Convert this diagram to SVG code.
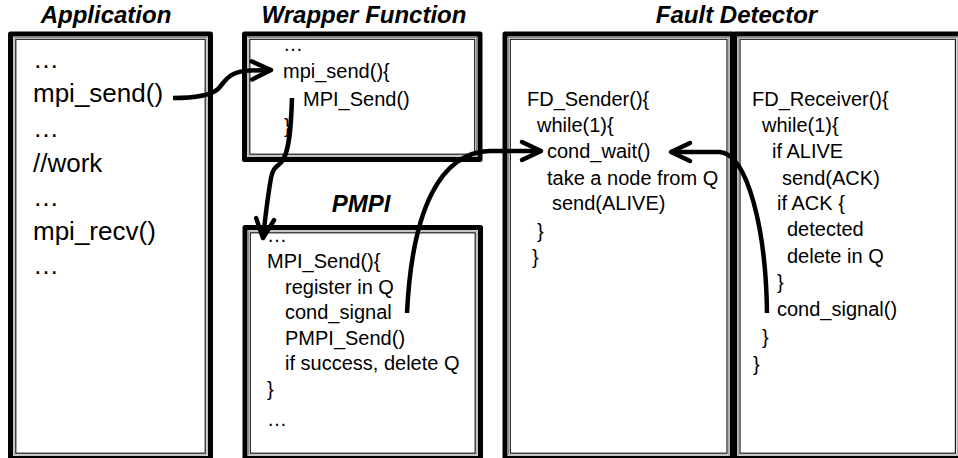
<svg xmlns="http://www.w3.org/2000/svg" width="958" height="458" viewBox="0 0 958 458">
<defs>
<style>
.outer{fill:#fff;stroke:#000;stroke-width:5;stroke-linejoin:round}
.mid{fill:none;stroke:#8c8c8c;stroke-width:1}
.inner{fill:none;stroke:#1a1a1a;stroke-width:1.2}
.title{font-family:"Liberation Sans",Arial,sans-serif;font-weight:bold;font-style:italic;font-size:24px;text-anchor:middle;fill:#000}
.big{font-family:"Liberation Sans",Arial,sans-serif;font-size:26px;fill:#000}
.code{font-family:"Liberation Sans",Arial,sans-serif;font-size:20px;fill:#000}
.conn{fill:none;stroke:#000;stroke-width:4.5;stroke-linecap:butt}
</style>
<marker id="chev" markerUnits="userSpaceOnUse" viewBox="-26 -14 30 28" refX="0" refY="0" markerWidth="30" markerHeight="28" orient="auto">
<path d="M-19,-9 L0,0 L-19,9" fill="none" stroke="#000" stroke-width="4.5" stroke-linejoin="round" stroke-linecap="round"/>
</marker>
</defs>
<rect width="958" height="458" fill="#fff"/>

<g id="application">
<text class="title" x="106" y="23">Application</text>
<rect class="outer" x="10.5" y="34" width="200" height="424.5"/>
<rect class="mid" x="14" y="37.5" width="193" height="417.5"/>
<rect class="inner" x="15.8" y="39.3" width="189.4" height="413.9"/>
<text class="big" x="33" y="68">…</text>
<text class="big" x="33" y="102">mpi_send()</text>
<text class="big" x="33" y="137">…</text>
<text class="big" x="33" y="172">//work</text>
<text class="big" x="33" y="206">…</text>
<text class="big" x="33" y="240">mpi_recv()</text>
<text class="big" x="33" y="274">…</text>
</g>

<g id="wrapper">
<text class="title" x="364" y="23">Wrapper Function</text>
<rect class="outer" x="244.5" y="34" width="235.5" height="125.5"/>
<rect class="mid" x="248" y="37.5" width="228.5" height="118.5"/>
<rect class="inner" x="249.8" y="39.3" width="224.9" height="114.9"/>
<text class="code" x="283" y="51">…</text>
<text class="code" x="283" y="78">mpi_send(){</text>
<text class="code" x="303" y="106">MPI_Send()</text>
<text class="code" x="284" y="133">}</text>
</g>

<g id="pmpi">
<text class="title" x="361" y="212">PMPI</text>
<rect class="outer" x="245" y="227.5" width="235.5" height="231"/>
<rect class="mid" x="248.5" y="231" width="228.5" height="224"/>
<rect class="inner" x="250.3" y="232.8" width="224.9" height="220.4"/>
<text class="code" x="267" y="242">…</text>
<text class="code" x="267" y="268">MPI_Send(){</text>
<text class="code" x="285" y="294">register in Q</text>
<text class="code" x="285" y="319">cond_signal</text>
<text class="code" x="285" y="345">PMPI_Send()</text>
<text class="code" x="285" y="370">if success, delete Q</text>
<text class="code" x="267" y="396">}</text>
<text class="code" x="267" y="426">…</text>
</g>

<g id="fault-detector">
<text class="title" x="736.5" y="23">Fault Detector</text>
<g id="fd-sender">
<rect class="outer" x="505" y="34" width="227.3" height="424.5"/>
<rect class="mid" x="508.5" y="37.5" width="220.3" height="417.5"/>
<rect class="inner" x="510.3" y="39.3" width="216.7" height="413.9"/>
<text class="code" x="527" y="106">FD_Sender(){</text>
<text class="code" x="537" y="132">while(1){</text>
<text class="code" x="547" y="158">cond_wait()</text>
<text class="code" x="547" y="185">take a node from Q</text>
<text class="code" x="552" y="210">send(ALIVE)</text>
<text class="code" x="537" y="238">}</text>
<text class="code" x="532" y="264">}</text>
</g>
<g id="fd-receiver">
<rect class="outer" x="734.7" y="34" width="226" height="424.5"/>
<rect class="mid" x="738.2" y="37.5" width="219" height="417.5"/>
<rect class="inner" x="740" y="39.3" width="215.4" height="413.9"/>
<text class="code" x="752" y="106">FD_Receiver(){</text>
<text class="code" x="762" y="132">while(1){</text>
<text class="code" x="772" y="158">if ALIVE</text>
<text class="code" x="782" y="185">send(ACK)</text>
<text class="code" x="777" y="210">if ACK {</text>
<text class="code" x="787" y="236">detected</text>
<text class="code" x="787" y="263">delete in Q</text>
<text class="code" x="777" y="289">}</text>
<text class="code" x="777" y="316">cond_signal()</text>
<text class="code" x="762" y="344">}</text>
<text class="code" x="753" y="371">}</text>
</g>
</g>

<g id="connectors">
<path class="conn" marker-end="url(#chev)" d="M173,98 C195,98 210,96 218,89 C225,82 228,71 250,70.5 L271,70"/>
<path class="conn" marker-end="url(#chev)" d="M292,98 C291,130 289,150 283,160 C279,166 273,166 271,178 C268,195 265,220 263,238"/>
<path class="conn" marker-end="url(#chev)" d="M407,313 C412,210 440,152 490,151 L541,151"/>
<path class="conn" marker-end="url(#chev)" d="M767,313 C766,230 748,155 720,152 L671,152"/>
</g>
</svg>
